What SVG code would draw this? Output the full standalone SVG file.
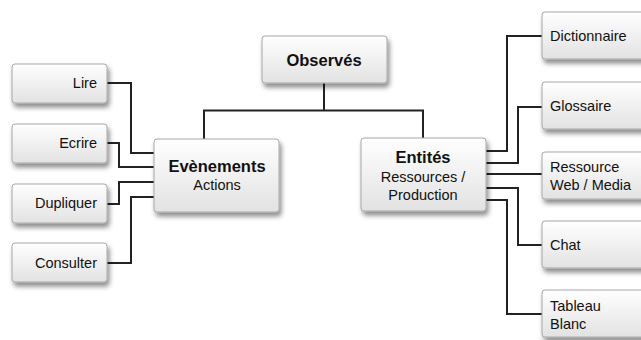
<svg xmlns="http://www.w3.org/2000/svg" width="641" height="340" viewBox="0 0 641 340">
<defs>
<linearGradient id="g" x1="0" y1="0" x2="0" y2="1">
<stop offset="0" stop-color="#ffffff"/>
<stop offset="1" stop-color="#e2e2e2"/>
</linearGradient>
<filter id="sh" x="-20%" y="-20%" width="150%" height="160%">
<feDropShadow dx="2" dy="4" stdDeviation="2.5" flood-color="#000" flood-opacity="0.45"/>
</filter>
</defs>
<style>
.box{fill:url(#g);stroke:#a8a8a8;stroke-width:1;filter:url(#sh)}
text{font-family:"Liberation Sans",Arial,sans-serif;font-size:14.5px;fill:#111}
.b{font-weight:bold;font-size:16.5px}
.m{text-anchor:middle}
.r{text-anchor:end}
.c{fill:none;stroke:#222;stroke-width:2}
</style>
<rect width="641" height="340" fill="#fff"/>
<g id="connectors">
<path class="c" d="M324 83V110.5M204 139V110.5H423V138"/>
<path class="c" d="M107 83H131V153H154M107 143H119V167H154M107 204H119V182H154M107 263H131V197H154"/>
<path class="c" d="M486 151H507V36H542M486 163H518V107H542M486 174H542M486 188H518V245H542M486 200H507V314H542"/>
</g>
<g id="observes"><rect class="box" x="262" y="36" width="125" height="47" rx="3"/><text class="b m" x="324" y="66">Observés</text></g>
<g id="evenements"><rect class="box" x="154" y="139" width="125" height="73" rx="3"/><text class="b m" x="217" y="172">Evènements</text><text class="m" x="217" y="190">Actions</text></g>
<g id="entites"><rect class="box" x="361" y="138" width="125" height="73" rx="3"/><text class="b m" x="423" y="163">Entités</text><text class="m" x="423" y="182">Ressources /</text><text class="m" x="423" y="200">Production</text></g>
<g id="lire"><rect class="box" x="12" y="64" width="95" height="39" rx="3"/><text class="r" x="97" y="88">Lire</text></g>
<g id="ecrire"><rect class="box" x="12" y="124" width="95" height="39" rx="3"/><text class="r" x="97" y="148">Ecrire</text></g>
<g id="dupliquer"><rect class="box" x="12" y="184" width="95" height="39" rx="3"/><text class="r" x="97" y="208">Dupliquer</text></g>
<g id="consulter"><rect class="box" x="12" y="243" width="95" height="39" rx="3"/><text class="r" x="97" y="268">Consulter</text></g>
<g id="dictionnaire"><rect class="box" x="542" y="12" width="110" height="47" rx="3"/><text x="550" y="41">Dictionnaire</text></g>
<g id="glossaire"><rect class="box" x="542" y="82" width="110" height="47" rx="3"/><text x="550" y="111">Glossaire</text></g>
<g id="ressource"><rect class="box" x="542" y="152" width="110" height="47" rx="3"/><text x="550" y="172">Ressource</text><text x="550" y="190">Web / Media</text></g>
<g id="chat"><rect class="box" x="542" y="221" width="110" height="47" rx="3"/><text x="550" y="250">Chat</text></g>
<g id="tableau"><rect class="box" x="542" y="290" width="110" height="47" rx="3"/><text x="550" y="311">Tableau</text><text x="550" y="329">Blanc</text></g>
</svg>
